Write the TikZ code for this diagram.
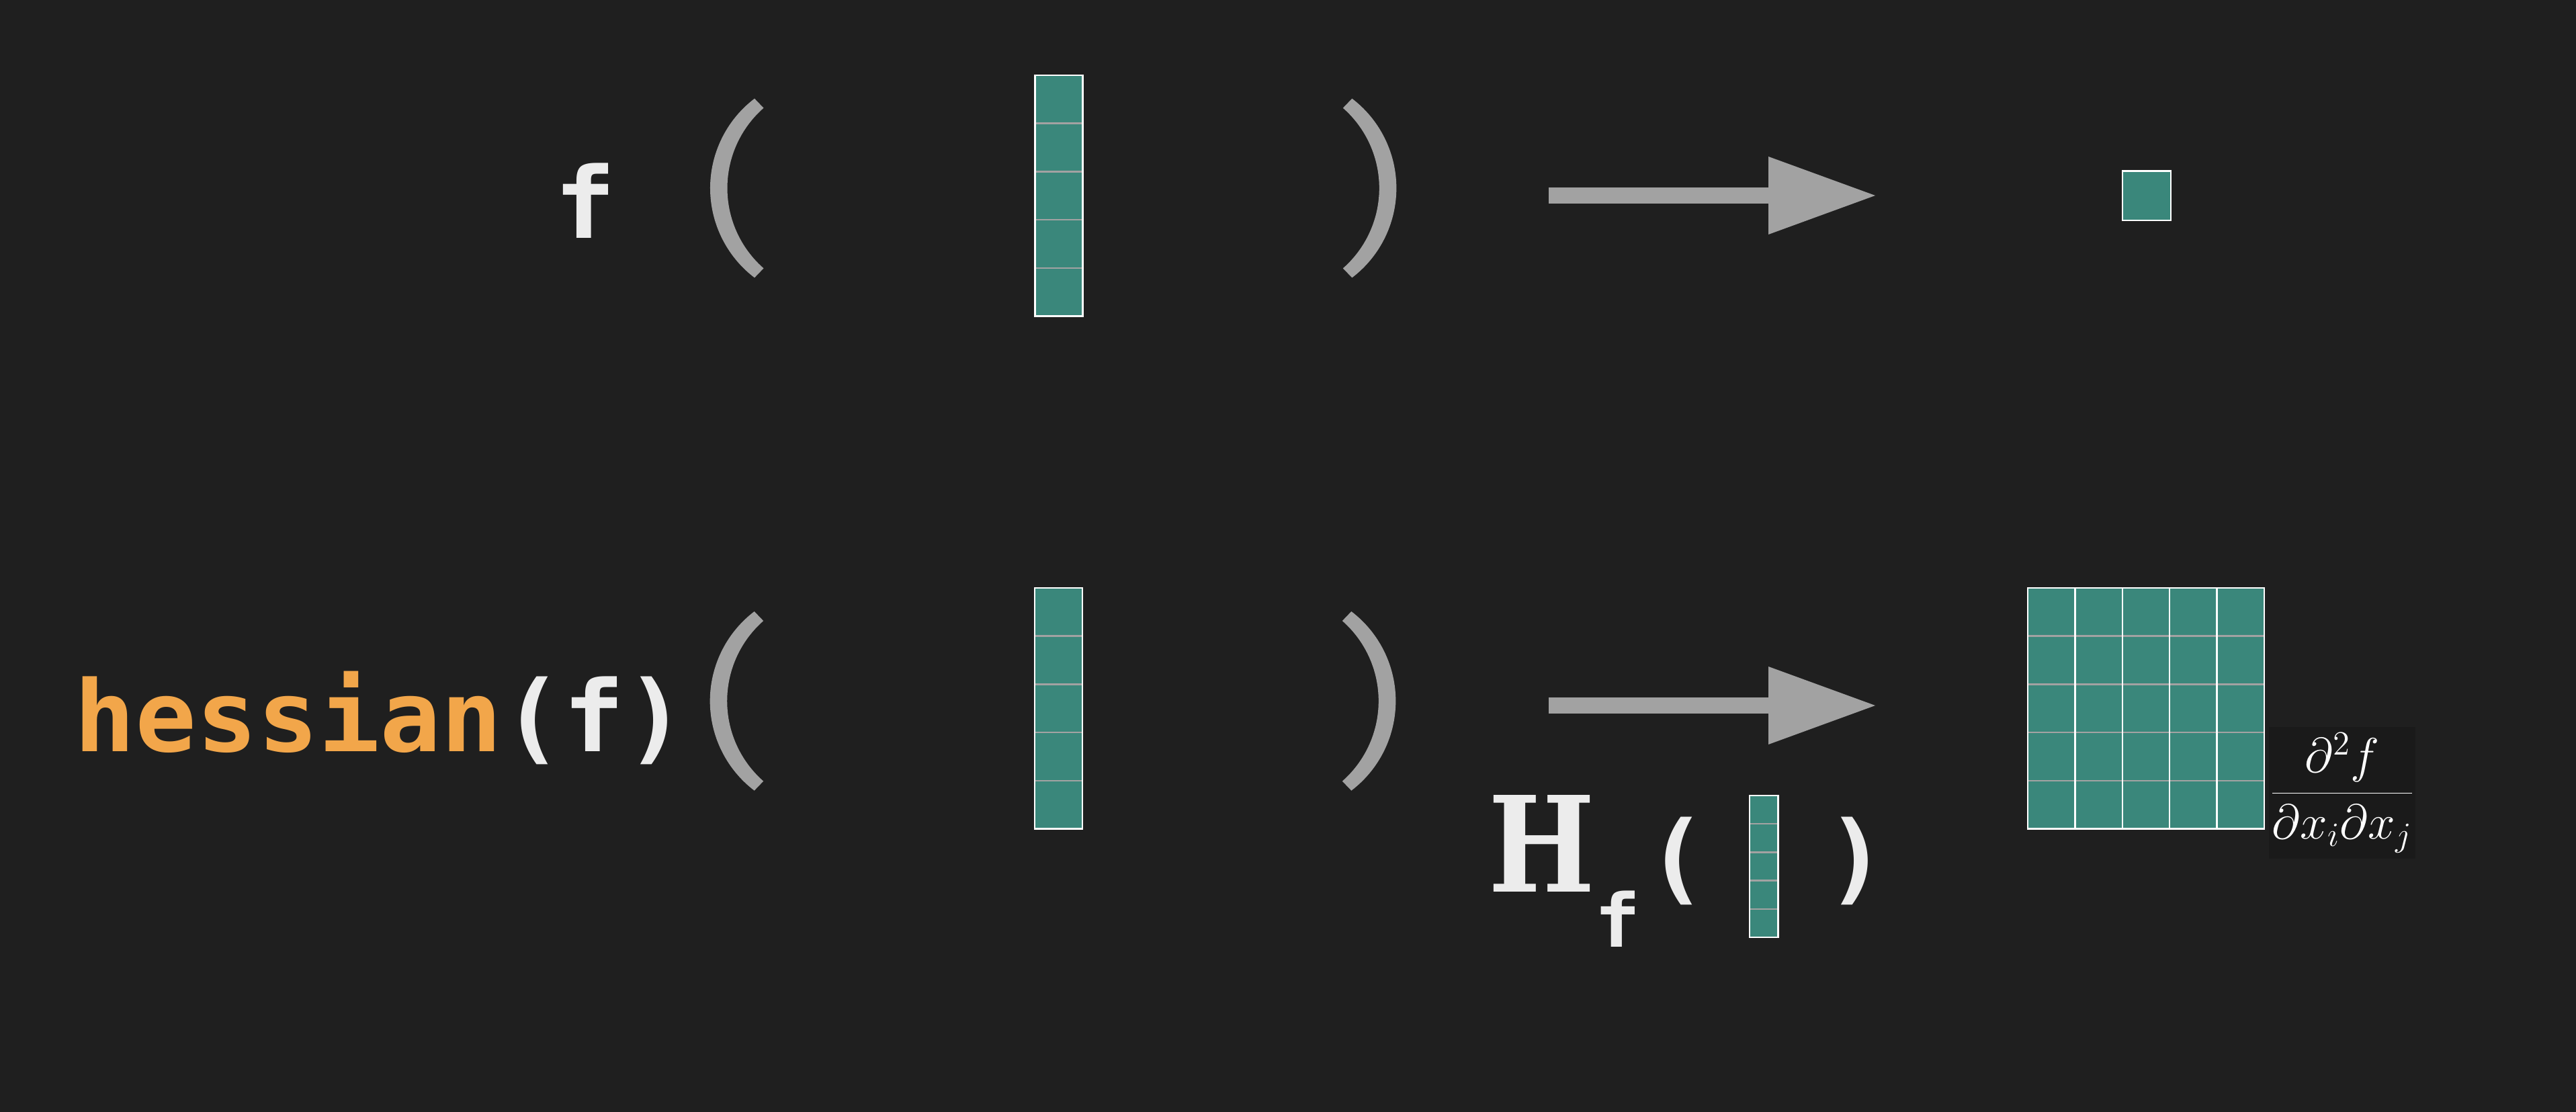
\documentclass[tikz,border=0pt]{standalone}
\usepackage{fontspec}
\usepackage{graphicx}
\usepackage{tikz}
\usetikzlibrary{arrows.meta}

\definecolor{bgcol}{HTML}{1F1F1F}
\definecolor{cellteal}{HTML}{3A877B}
\definecolor{softgray}{HTML}{A2A2A2}
\definecolor{chalk}{HTML}{ECECEC}
\definecolor{fnorange}{HTML}{F2A64A}
\definecolor{boxdark}{HTML}{1A1A1A}

\newfontfamily\codefont{DejaVu Sans Mono}[FakeStretch=1.03]
\newfontfamily\slabfont{DejaVu Serif}

\tikzset{
  codetext/.style={inner sep=0pt, anchor=base west, text=chalk, font=\codefont\bfseries\fontsize{41.8pt}{50pt}\selectfont},
  codesub/.style={codetext, font=\codefont\bfseries\fontsize{31.3pt}{38pt}\selectfont},
  vecedge/.style={draw=white, line width=0.7pt},
  cellline/.style={draw=softgray, line width=0.7pt},
  bigarrow/.style={softgray, line width=0.24cm, -{Triangle[length=1.59cm, width=1.16cm, line width=0pt]}},
  bigparen/.pic={\fill[softgray] (0,0) ++(0.66,1.333) arc[start angle=127.3, end angle=232.7, radius=1.676]
      -- ++(0.135,0.14) arc[start angle=228.7, end angle=131.3, radius=1.588] -- cycle;},
}

% column vector: left x, top y, cell width, cell height
\newcommand{\colvec}[4]{%
  \fill[cellteal] (#1,#2) rectangle ++(#3,-5*#4);
  \foreach \k in {1,...,4}{\draw[cellline] (#1,#2-\k*#4) -- ++(#3,0);}
  \draw[vecedge] (#1,#2) rectangle ++(#3,-5*#4);}

\begin{document}
\begin{tikzpicture}
  \useasboundingbox (0,0) rectangle (38.34,-16.55);
  \fill[bgcol] (0,0) rectangle (38.34,-16.55);

  % f(x) -> scalar
  \node[codetext] (fn) at (8.2475,-3.55) {f};
  \pic at (10.57,-2.80) {bigparen};
  \colvec{15.405}{-1.12}{0.71}{0.717}
  \pic[xscale=-1] at (20.783,-2.80) {bigparen};
  \coordinate (ta) at (23.05,-2.91);
  \coordinate (tb) at (27.91,-2.91);
  \draw[bigarrow] (ta) -- (tb);
  \draw[vecedge, fill=cellteal] (31.59,-2.545) rectangle ++(0.72,-0.735);

  % hessian(f)(x) -> matrix
  \node[codetext] (call) at (1.0945,-11.18) {\textcolor{fnorange}{hessian}(f)};
  \pic at (10.567,-10.433) {bigparen};
  \colvec{15.40}{-8.75}{0.71}{0.717}
  \pic[xscale=-1] at (20.773,-10.433) {bigparen};
  \coordinate (ba) at (23.05,-10.50);
  \coordinate (bb) at (27.91,-10.50);
  \draw[bigarrow] (ba) -- (bb);
  \foreach \c in {0,...,4}{\colvec{30.18+\c*0.704}{-8.75}{0.704}{0.717}}

  \node[inner sep=0pt, anchor=base west, text=chalk, font=\slabfont\bfseries\fontsize{56.2pt}{60pt}\selectfont] (hmat) at (22.15,-13.27) {\scalebox{0.85}[1]{H}};
  \node[codesub] (hsub) at (23.731,-14.09) {f};
  \node[codetext] (hl) at (24.50,-13.273) {(};
  \colvec{26.04}{-11.84}{0.423}{0.422}
  \node[codetext] (hr) at (27.17,-13.273) {)};

  \node[fill=boxdark, inner sep=0pt, minimum width=2.18cm, minimum height=1.96cm, text=white,
    font=\fontsize{20pt}{24pt}\selectfont] (d2f) at (34.86,-11.80) {$\displaystyle\frac{\partial^2 f}{\partial x_i\partial x_j}$};
\end{tikzpicture}
\end{document}
